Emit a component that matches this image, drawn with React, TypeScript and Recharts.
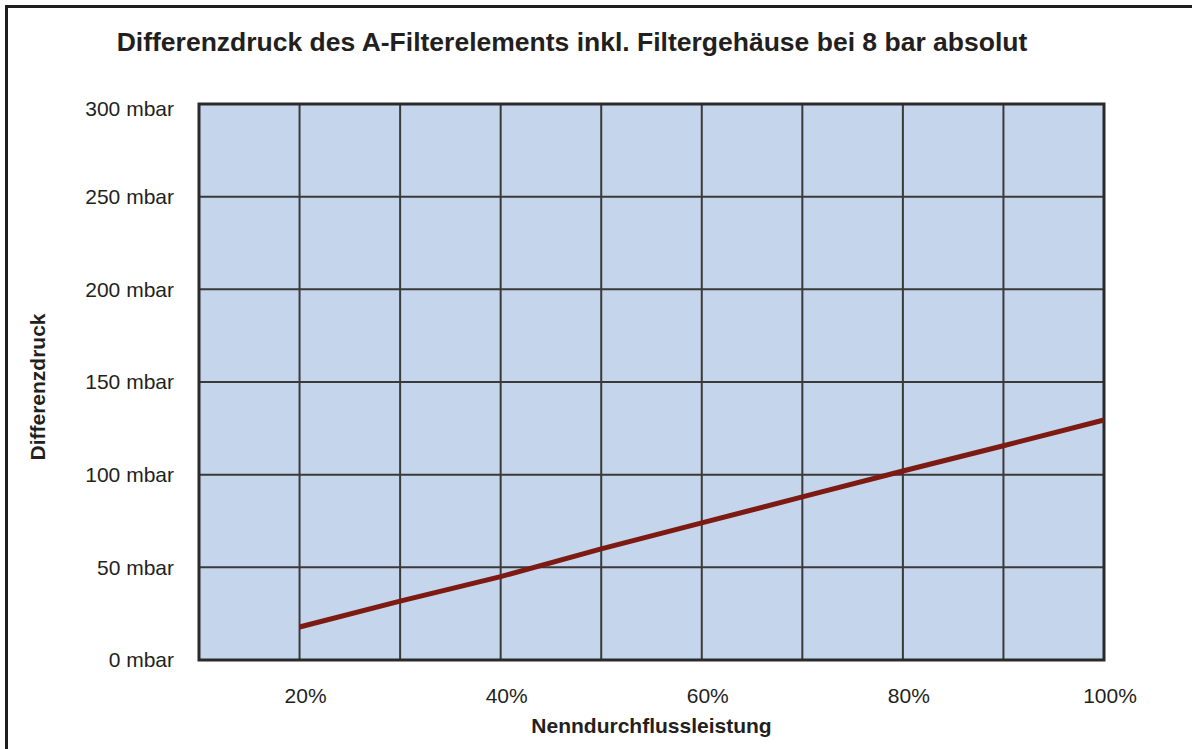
import React from 'react';
import { LineChart, Line, XAxis, YAxis, CartesianGrid, ReferenceArea } from 'recharts';

const flowPercent = [20, 30, 40, 50, 60, 70, 80, 90, 100];
const pressureMbar = [17.8, 31.8, 45, 60, 74, 88, 102, 115.6, 129.5];
const xGridTicks = [10, 20, 30, 40, 50, 60, 70, 80, 90, 100];
const xLabelTicks = [20, 40, 60, 80, 100];
const yTicks = [0, 50, 100, 150, 200, 250, 300];
const chartTitle = 'Differenzdruck des A-Filterelements inkl. Filtergehäuse bei 8 bar absolut';
const xTitle = 'Nenndurchflussleistung';
const yTitle = 'Differenzdruck';

const data = flowPercent.map((x, i) => ({ x, y: pressureMbar[i] }));
const FONT = '"Liberation Sans", Arial, Helvetica, sans-serif';
const TEXT = '#231f20';

function XTick(props: any) {
  const { x, y, payload } = props;
  if (!xLabelTicks.includes(payload.value)) return <g />;
  return (
    <text x={x + 6} y={y} dy="0.71em" textAnchor="middle" fontSize={21} fill={TEXT} fontFamily={FONT}>
      {payload.value}%
    </text>
  );
}

function YTick(props: any) {
  const { x, y, payload } = props;
  const shift = payload.value === 300 ? 5 : 0;
  return (
    <text x={x} y={y + shift} dy="0.355em" textAnchor="end" fontSize={21} fill={TEXT} fontFamily={FONT}>
      {payload.value} mbar
    </text>
  );
}

function YLabel(props: any) {
  const vb = props.viewBox || {};
  const cy = vb.y + vb.height / 2 + 5;
  const cx = 45;
  return (
    <text x={cx} y={cy} transform={`rotate(-90, ${cx}, ${cy})`} textAnchor="middle" fontSize={21} fontWeight="bold" fill={TEXT} fontFamily={FONT}>
      {yTitle}
    </text>
  );
}

function XLabel(props: any) {
  const vb = props.viewBox || {};
  const cx = vb.x + vb.width / 2;
  return (
    <text x={cx} y={733} textAnchor="middle" fontSize={21} fontWeight="bold" fill={TEXT} fontFamily={FONT}>
      {xTitle}
    </text>
  );
}

export default function App() {
  return (
    <div style={{ position: 'fixed', left: 0, top: 0, width: 1192, height: 749, overflow: 'hidden', background: '#fff' }}>
      <div
        style={{
          position: 'absolute', left: 5, top: 5, width: 2000, height: 2000,
          borderLeft: '3px solid #1e1e1e', borderTop: '3px solid #1e1e1e', boxSizing: 'border-box',
        }}
      />
      <div
        style={{
          position: 'absolute', left: 0, top: 27, width: 1144, textAlign: 'center',
          fontFamily: FONT, fontWeight: 'bold', fontSize: 26.5, lineHeight: '30px', color: TEXT, whiteSpace: 'nowrap',
        }}
      >
        {chartTitle}
      </div>
      <div style={{ position: 'absolute', left: 0, top: 0 }}>
        <LineChart width={1192} height={749} data={data} margin={{ top: 104, right: 88, bottom: 0, left: 0 }}>
          <CartesianGrid stroke="#3a3a3a" strokeWidth={2} fill="#c5d5ec" fillOpacity={1} />
          <XAxis
            dataKey="x"
            type="number"
            domain={[10, 100]}
            ticks={xGridTicks}
            interval={0}
            height={89}
            axisLine={false}
            tickLine={false}
            tickSize={0}
            tickMargin={28}
            tick={<XTick />}
            label={<XLabel />}
          />
          <YAxis
            type="number"
            domain={[0, 300]}
            ticks={yTicks}
            interval={0}
            width={199}
            axisLine={false}
            tickLine={false}
            tickSize={0}
            tickMargin={25}
            tick={<YTick />}
            label={<YLabel />}
          />
          <Line type="linear" dataKey="y" stroke="#7d1a12" strokeWidth={5} dot={false} isAnimationActive={false} />
          <ReferenceArea x1={10} x2={100} y1={0} y2={300} fill="none" stroke="#2a2a2a" strokeWidth={3} ifOverflow="visible" />
        </LineChart>
      </div>
    </div>
  );
}
